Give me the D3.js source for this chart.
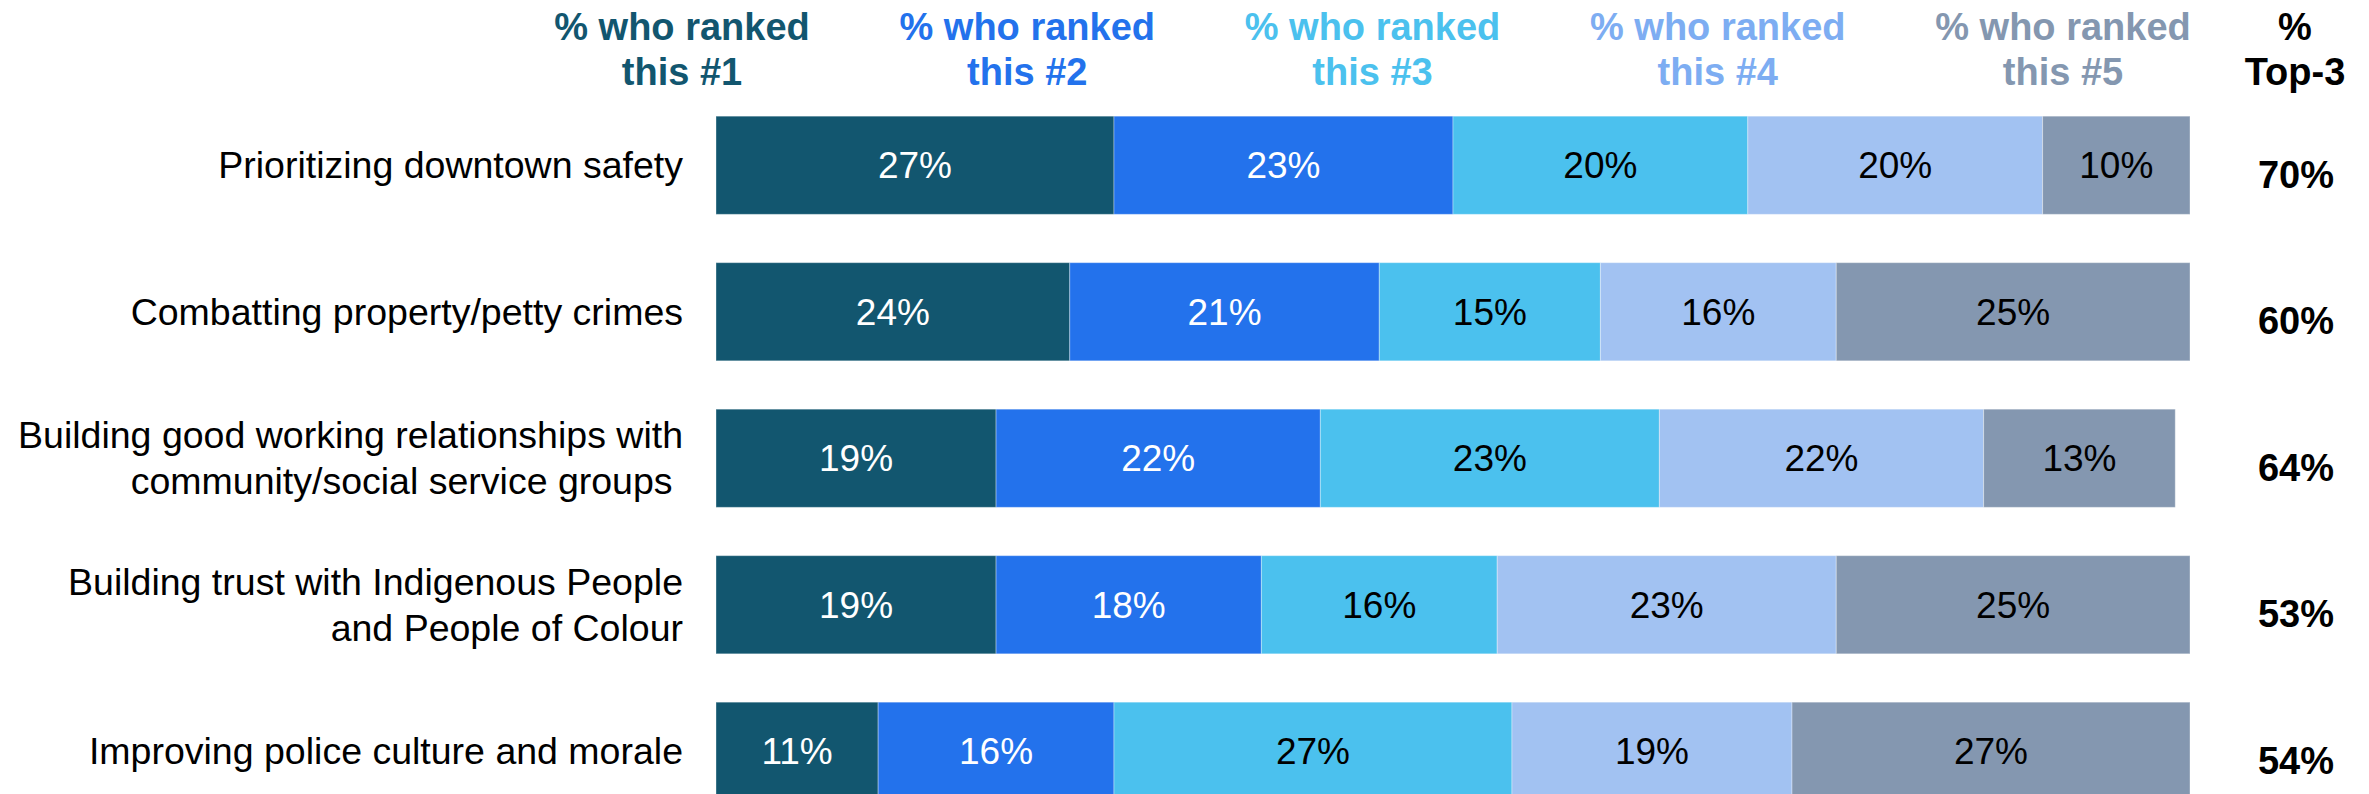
<!DOCTYPE html>
<html>
<head>
<meta charset="utf-8">
<script src="https://cdn.jsdelivr.net/npm/d3@7"></script>
<style>
  body { margin: 0; background: #fff; overflow: hidden; }
  text { font-family: "Liberation Sans", Arial, sans-serif; }
</style>
</head>
<body>
<div id="chart"></div>
<script>
// categories (each entry is a list of label lines)
const categories = [
  ["Prioritizing downtown safety"],
  ["Combatting property/petty crimes"],
  ["Building good working relationships with", "community/social service groups "],
  ["Building trust with Indigenous People", "and People of Colour"],
  ["Improving police culture and morale"]
];

// % who ranked each item #1..#5 (bar widths)
const rank1 = [27, 24, 19, 19, 11];
const rank2 = [23, 21, 22, 18, 16];
const rank3 = [20, 15, 23, 16, 27];
const rank4 = [20, 16, 22, 23, 19];
const rank5 = [10, 24, 13, 24, 27];

// printed labels for rank #5 (the source rounds differently than the bar width)
const rank5Labels = ["10%", "25%", "13%", "25%", "27%"];

const top3 = [70, 60, 64, 53, 54];

const headers = ["#1", "#2", "#3", "#4", "#5"];

const W = 2369, H = 794;

const barColors = ["#12566f", "#2372ec", "#4bc1ee", "#a2c2f2", "#8497b0"];
const headColors = ["#12566f", "#2372ec", "#4bc1ee", "#7dadf2", "#8497b0"];
const textColors = ["#fff", "#fff", "#000", "#000", "#000"];

const series = [rank1, rank2, rank3, rank4, rank5];

const svg = d3.select("#chart")
  .append("svg")
    .attr("width", W)
    .attr("height", H);

// x scale: percent -> pixels
const x = d3.scaleLinear()
  .domain([0, 100])
  .range([716, 2190]);

// y scale: one band per category
const y = d3.scaleBand()
  .domain(d3.range(categories.length))
  .range([92, 824.5])
  .paddingInner(0.33)
  .paddingOuter(0.165);

// header positions
const hx = d3.scalePoint()
  .domain(headers)
  .range([682, 2063]);

const headFs = 38;
const labelFs = 37.5;
const valueFs = 37;

// column headers
headers.forEach((h, i) => {
  const t = svg.append("text")
    .attr("text-anchor", "middle")
    .attr("font-size", headFs)
    .attr("font-weight", "bold")
    .attr("fill", headColors[i]);
  t.append("tspan").attr("x", hx(h)).attr("y", 40).text("% who ranked");
  t.append("tspan").attr("x", hx(h)).attr("y", 85).text("this " + h);
});

const t3 = svg.append("text")
  .attr("text-anchor", "middle")
  .attr("font-size", headFs)
  .attr("font-weight", "bold")
  .attr("fill", "#000");
t3.append("tspan").attr("x", 2295).attr("y", 40).text("%");
t3.append("tspan").attr("x", 2295).attr("y", 85).text("Top-3");

// stacked bars
categories.forEach((cat, r) => {
  let start = 0;
  const g = svg.append("g");
  series.forEach((s, k) => {
    const v = s[r];
    g.append("rect")
      .attr("x", x(start))
      .attr("y", y(r))
      .attr("width", x(start + v) - x(start))
      .attr("height", y.bandwidth())
      .attr("fill", barColors[k])
      .attr("stroke", "#ffffff")
      .attr("stroke-opacity", 0.35)
      .attr("stroke-width", 1);
    g.append("text")
      .attr("x", (x(start) + x(start + v)) / 2)
      .attr("y", y(r) + y.bandwidth() / 2)
      .attr("dy", "0.35em")
      .attr("text-anchor", "middle")
      .attr("font-size", valueFs)
      .attr("fill", textColors[k])
      .text(k === 4 ? rank5Labels[r] : d3.format("d")(v) + "%");
    start += v;
  });

  // category label
  const cy = y(r) + y.bandwidth() / 2;
  const lab = svg.append("text")
    .attr("text-anchor", "end")
    .attr("font-size", labelFs)
    .attr("fill", "#000");
  const n = cat.length;
  cat.forEach((line, j) => {
    lab.append("tspan")
      .attr("x", 683)
      .attr("y", cy + (j - (n - 1) / 2) * 46)
      .attr("dy", "0.35em")
      .style("white-space", "pre")
      .text(line);
  });

  // top-3 total
  svg.append("text")
    .attr("x", 2296)
    .attr("y", cy + 9)
    .attr("dy", "0.35em")
    .attr("text-anchor", "middle")
    .attr("font-size", headFs)
    .attr("font-weight", "bold")
    .attr("fill", "#000")
    .text(top3[r] + "%");
});
</script>
</body>
</html>
